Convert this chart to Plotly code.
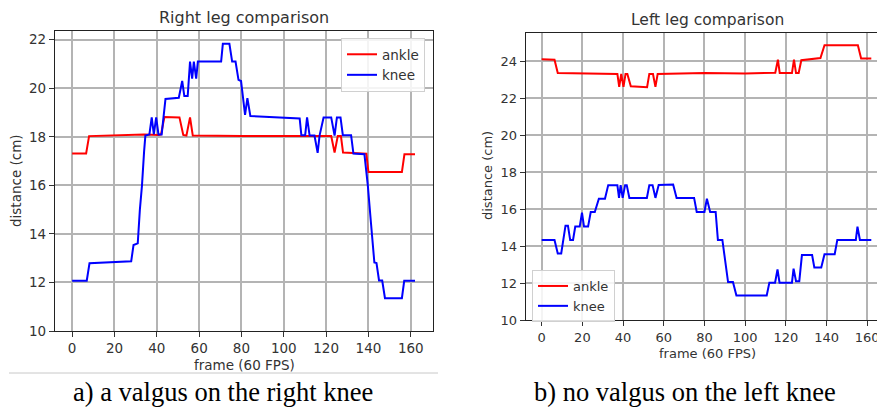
import plotly.graph_objects as go

# ---------------- data ----------------
# Right leg
rl_ankle_frame = [0, 6.6, 8, 20, 34, 41, 42, 43.6, 50.7, 52.5, 54, 55.7, 57, 80, 100, 122.4, 124, 125.5,
                  127, 128, 132.6, 139, 140, 155.8, 157, 162]
rl_ankle_cm = [17.31, 17.31, 18.03, 18.06, 18.1, 18.08, 18.1, 18.82, 18.8, 18.08, 18.05, 18.8, 18.05, 18.03,
               18.03, 18.03, 17.35, 18.03, 18.03, 17.35, 17.33, 17.3, 16.55, 16.55, 17.28, 17.28]

rl_knee_frame = [0, 6.9, 8.2, 20, 27.9, 29, 31, 32, 33, 34, 34.6, 36.5, 37.6, 38.6, 39.7, 40.8, 42.3, 44.1,
                 50.4, 52, 53, 54.6, 55.7, 56.7, 57.5, 58.6, 59.4, 70.4, 71.2, 74.3, 75.6, 77.2, 78.6, 79.8,
                 80.9, 81.7, 82.8, 84.2, 107.5, 108.3, 110.1, 111, 112.2, 114.5, 116, 116.9, 118.8, 122.4,
                 124, 125.1, 126.8, 127.9, 131.8, 132.9, 138.1, 139.7, 141.2, 142.8, 143.8, 145, 146.5,
                 147.8, 155.8, 156.9, 162]
rl_knee_cm = [12.07, 12.07, 12.79, 12.83, 12.87, 13.54, 13.61, 15.0, 16.0, 17.4, 18.05, 18.1, 18.8, 18.1,
              18.8, 18.1, 18.1, 19.56, 19.61, 20.3, 19.68, 19.68, 21.1, 20.4, 21.1, 20.4, 21.1, 21.1, 21.83,
              21.83, 21.1, 21.1, 20.35, 20.3, 19.59, 18.9, 19.59, 18.86, 18.76, 18.07, 18.07, 18.8, 18.05,
              18.05, 17.34, 18.05, 18.8, 18.8, 18.05, 18.8, 18.8, 18.07, 18.07, 17.31, 17.28, 16.0, 14.44,
              12.82, 12.8, 12.08, 12.08, 11.35, 11.35, 12.07, 12.07]

# Left leg
ll_ankle_frame = [0, 6.3, 7.9, 20, 37.2, 38.1, 39.1, 40.2, 41.2, 42.1, 43.8, 51.8, 52.9, 54.7, 55.9, 57, 80,
                  100, 114.8, 116.1, 117, 123, 124, 125, 126.3, 127.6, 137, 139, 155.4, 157, 162]
ll_ankle_cm = [24.09, 24.07, 23.35, 23.33, 23.3, 22.6, 23.3, 22.6, 23.3, 23.3, 22.63, 22.58, 23.3, 23.3,
               22.6, 23.3, 23.35, 23.33, 23.37, 24.07, 23.35, 23.35, 24.07, 23.35, 23.35, 24.04, 24.16,
               24.85, 24.85, 24.13, 24.13]

ll_knee_frame = [0, 6.3, 7.9, 9.6, 11.7, 12.9, 14, 15.4, 16.5, 18.7, 19.8, 20.8, 22.8, 24.1, 26.1, 28.1,
                 31.1, 32.7, 37.2, 38, 38.8, 39.8, 41, 41.8, 43.1, 51.7, 52.9, 54.5, 55.9, 57.5, 64.6, 66.3,
                 74.9, 76.2, 80, 81.2, 82.8, 85.5, 86.6, 88.8, 91.6, 94, 95.7, 110.6, 111.9, 114.7, 115.9,
                 116.9, 123, 123.8, 125, 126.6, 127.9, 132.9, 134, 137.4, 139, 144, 145.3, 154.4, 155.2,
                 156.4, 162]
ll_knee_cm = [14.33, 14.33, 13.6, 13.6, 15.1, 15.1, 14.33, 14.33, 15.05, 15.05, 15.8, 15.05, 15.05, 15.84,
              15.84, 16.56, 16.56, 17.29, 17.29, 16.6, 17.29, 16.6, 17.29, 17.29, 16.6, 16.6, 17.29, 17.29,
              16.6, 17.3, 17.32, 16.6, 16.6, 15.84, 15.84, 16.56, 15.84, 15.84, 14.33, 14.33, 12.05,
              12.05, 11.33, 11.33, 12.02, 12.02, 12.73, 12.02, 12.02, 12.78, 12.1, 12.1, 13.51, 13.51,
              12.84, 12.84, 13.56, 13.56, 14.33, 14.33, 15.05, 14.33, 14.33]

frame_ticks = [0, 20, 40, 60, 80, 100, 120, 140, 160]
rl_y_ticks = [10, 12, 14, 16, 18, 20, 22]
ll_y_ticks = [10, 12, 14, 16, 18, 20, 22, 24]

titles = ["Right leg comparison", "Left leg comparison"]
captions = ["a) a valgus on the right knee", "b) no valgus on the left knee"]
x_label = "frame (60 FPS)"
y_label = "distance (cm)"

# ---------------- figure ----------------
W, H = 877, 409
RED, BLUE = "#ff0000", "#0000ff"
GRID = "#b4b4b4"
TXT = "#333333"
SANS = "DejaVu Sans"

fig = go.Figure()
fig.add_trace(go.Scatter(x=rl_ankle_frame, y=rl_ankle_cm, mode="lines", name="ankle",
                         line=dict(color=RED, width=2), xaxis="x", yaxis="y", legend="legend"))
fig.add_trace(go.Scatter(x=rl_knee_frame, y=rl_knee_cm, mode="lines", name="knee",
                         line=dict(color=BLUE, width=2), xaxis="x", yaxis="y", legend="legend"))
fig.add_trace(go.Scatter(x=ll_ankle_frame, y=ll_ankle_cm, mode="lines", name="ankle",
                         line=dict(color=RED, width=2), xaxis="x2", yaxis="y2", legend="legend2"))
fig.add_trace(go.Scatter(x=ll_knee_frame, y=ll_knee_cm, mode="lines", name="knee",
                         line=dict(color=BLUE, width=2), xaxis="x2", yaxis="y2", legend="legend2"))


def px_x(p):
    return p / W


def px_y(p):
    return (H - p) / H


axis_common = dict(showgrid=True, gridcolor=GRID, gridwidth=1.5, zeroline=False,
                   showline=True, linecolor="#222222", linewidth=1.2,
                   ticks="outside", ticklen=5, tickwidth=1.2, tickcolor="#333333",
                   automargin=False, ticklabeloverflow="allow")

# left panel: x 55..433 px, y 31..331 px
fig.update_layout(
    xaxis=dict(domain=[px_x(55), px_x(433)], range=[-8.1, 170.5], tickvals=frame_ticks,
               mirror=True, anchor="y", tickfont=dict(family=SANS, size=13.5, color=TXT), **axis_common),
    yaxis=dict(domain=[px_y(331), px_y(31)], range=[10, 22.36], tickvals=rl_y_ticks,
               mirror=True, anchor="x", tickfont=dict(family=SANS, size=13.5, color=TXT), **axis_common),
    # right panel: x 525.7..(clipped), y 32.7..320 px
    xaxis2=dict(domain=[px_x(525.7), 1.0], range=[-7.86, 164.8], tickvals=frame_ticks,
                mirror=True, anchor="y2", tickfont=dict(family=SANS, size=13, color=TXT), **axis_common),
    yaxis2=dict(domain=[px_y(320), px_y(32.7)], range=[10, 25.53], tickvals=ll_y_ticks,
                mirror=False, anchor="x2", tickfont=dict(family=SANS, size=13, color=TXT), **axis_common),
)

fig.update_layout(
    legend=dict(x=px_x(341), y=px_y(38), xanchor="left", yanchor="top",
                bgcolor="rgba(255,255,255,0.85)", bordercolor="#d0d0d0", borderwidth=1,
                font=dict(family=SANS, size=13.5, color=TXT), itemwidth=30, tracegroupgap=0),
    legend2=dict(x=px_x(532), y=px_y(270), xanchor="left", yanchor="top",
                 bgcolor="rgba(255,255,255,0.85)", bordercolor="#d0d0d0", borderwidth=1,
                 font=dict(family=SANS, size=13, color=TXT), itemwidth=30, tracegroupgap=0),
)

ann = []
# titles
ann.append(dict(text=titles[0], x=px_x(244), y=px_y(17), font=dict(family=SANS, size=16, color=TXT)))
ann.append(dict(text=titles[1], x=px_x(707), y=px_y(20), font=dict(family=SANS, size=15.5, color=TXT)))
# x labels
ann.append(dict(text=x_label, x=px_x(244), y=px_y(365), font=dict(family=SANS, size=13.5, color=TXT)))
ann.append(dict(text=x_label, x=px_x(707), y=px_y(353), font=dict(family=SANS, size=13, color=TXT)))
# y labels
ann.append(dict(text=y_label, x=px_x(16), y=px_y(181), textangle=-90,
                font=dict(family=SANS, size=13.5, color=TXT)))
ann.append(dict(text=y_label, x=px_x(487), y=px_y(176), textangle=-90,
                font=dict(family=SANS, size=13, color=TXT)))
# captions
ann.append(dict(text=captions[0], x=px_x(223), y=px_y(392),
                font=dict(family="Liberation Serif", size=26.5, color="#000000")))
ann.append(dict(text=captions[1], x=px_x(685), y=px_y(392),
                font=dict(family="Liberation Serif", size=26.5, color="#000000")))
for a in ann:
    a.update(xref="paper", yref="paper", showarrow=False, xanchor="center", yanchor="middle")

fig.update_layout(
    annotations=ann,
    shapes=[dict(type="line", xref="paper", yref="paper", x0=px_x(9), x1=px_x(438),
                 y0=px_y(373), y1=px_y(373), line=dict(color="#c8c8c8", width=1))],
    width=W, height=H, margin=dict(l=0, r=0, t=0, b=0),
    paper_bgcolor="white", plot_bgcolor="white",
)

fig.write_html("out.html", config={"displayModeBar": False},
               post_script="document.body.style.margin='0';")
